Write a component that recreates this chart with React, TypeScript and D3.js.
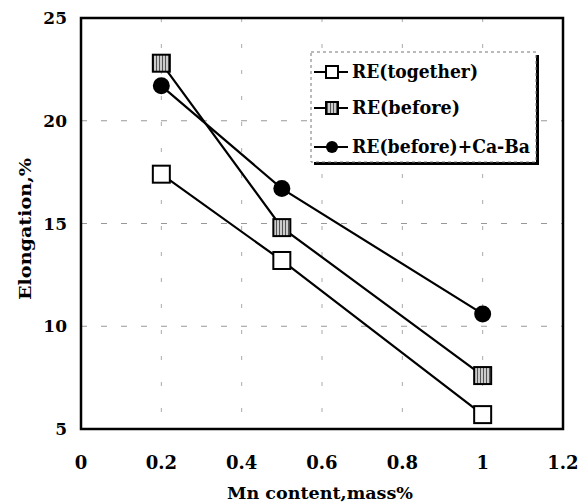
import React from "react";
import * as d3 from "d3";

const xTicks = [0, 0.2, 0.4, 0.6, 0.8, 1, 1.2];
const xTickLabels = ["0", "0.2", "0.4", "0.6", "0.8", "1", "1.2"];
const yTicks = [5, 10, 15, 20, 25];
const mnContent = [0.2, 0.5, 1.0];
const seriesNames = ["RE(together)", "RE(before)", "RE(before)+Ca-Ba"];
const reTogether = [17.4, 13.2, 5.7];
const reBefore = [22.8, 14.8, 7.6];
const reBeforeCaBa = [21.7, 16.7, 10.6];

const W = 580, H = 504;
const M = { left: 81, right: 563, top: 18, bottom: 429 };
const FONT = "'DejaVu Serif', 'Liberation Serif', serif";

export default function App() {
  const x = d3.scaleLinear().domain([0, 1.2]).range([M.left, M.right]);
  const y = d3.scaleLinear().domain([5, 25]).range([M.bottom, M.top]);
  const line = d3.line<number>().x((_, i) => x(mnContent[i])).y((d) => y(d));
  const series = [reTogether, reBefore, reBeforeCaBa];
  const sq = 17;

  const marker = (k: number, cx: number, cy: number, key: string, s = sq) => {
    if (k === 2) return <circle key={key} cx={cx} cy={cy} r={s / 2} fill="#000" />;
    return (
      <rect key={key} x={cx - s / 2} y={cy - s / 2} width={s} height={s}
        fill={k === 1 ? "url(#hatch)" : "#fff"} stroke="#000" strokeWidth={2} />
    );
  };

  const legX = 311, legY = 52, legW = 225, legH = 110;
  const legRows = [72, 108, 147];
  const legWidths = [126, 108, 178];

  return (
    <svg width={W} height={H} style={{ position: "absolute", left: 0, top: 0, background: "#fff" }}>
      <defs>
        <pattern id="hatch" width="3" height="3" patternUnits="userSpaceOnUse">
          <rect width="3" height="3" fill="#ccc" />
          <rect width="1" height="3" fill="#555" />
        </pattern>
      </defs>
      <rect width={W} height={H} fill="#fff" />
      {yTicks.slice(1, -1).map((t) => (
        <line key={"gy" + t} x1={M.left} x2={M.right} y1={y(t)} y2={y(t)}
          stroke="#999" strokeWidth={1} strokeDasharray="6 14" />
      ))}
      {xTicks.slice(1, -1).map((t) => (
        <line key={"gx" + t} x1={x(t)} x2={x(t)} y1={M.top} y2={M.bottom}
          stroke="#aaa" strokeWidth={1} strokeDasharray="4 22" />
      ))}
      {series.map((s, k) => (
        <path key={"l" + k} d={line(s) || ""} fill="none" stroke="#000" strokeWidth={2.2} />
      ))}
      {series.map((s, k) => s.map((v, i) => marker(k, x(mnContent[i]), y(v), `m${k}-${i}`)))}
      <rect x={M.left} y={M.top} width={M.right - M.left} height={M.bottom - M.top}
        fill="none" stroke="#000" strokeWidth={2.5} />
      {yTicks.map((t) => (
        <text key={"yt" + t} x={M.left - 14} y={y(t)} dy="0.36em" textAnchor="end"
          fontFamily={FONT} fontWeight="bold" fontSize={17}>{t}</text>
      ))}
      {xTicks.map((t, i) => (
        <text key={"xt" + t} x={x(t)} y={469} textAnchor="middle"
          fontFamily={FONT} fontWeight="bold" fontSize={18}>{xTickLabels[i]}</text>
      ))}
      <text x={320} y={499} textAnchor="middle" textLength={186} lengthAdjust="spacingAndGlyphs"
        fontFamily={FONT} fontWeight="bold" fontSize={17}>Mn content,mass%</text>
      <text transform={`translate(31,229) rotate(-90)`} textAnchor="middle" textLength={142} lengthAdjust="spacingAndGlyphs"
        fontFamily={FONT} fontWeight="bold" fontSize={17}>Elongation,%</text>
      <rect x={legX + 3} y={legY + 3} width={legW} height={legH} fill="#000" />
      <rect x={legX} y={legY} width={legW} height={legH} fill="#fff" stroke="#777" strokeWidth={1} strokeDasharray="3 3" />
      {seriesNames.map((n, k) => (
        <g key={"lg" + k}>
          <line x1={legX + 3} x2={legX + 37} y1={legRows[k]} y2={legRows[k]} stroke="#000" strokeWidth={2.2} />
          {marker(k, legX + 21, legRows[k], "lm" + k, 12)}
          <text x={legX + 41} y={legRows[k]} dy="0.36em" textLength={legWidths[k]} lengthAdjust="spacingAndGlyphs"
            fontFamily={FONT} fontWeight="bold" fontSize={18}>{n}</text>
        </g>
      ))}
    </svg>
  );
}
